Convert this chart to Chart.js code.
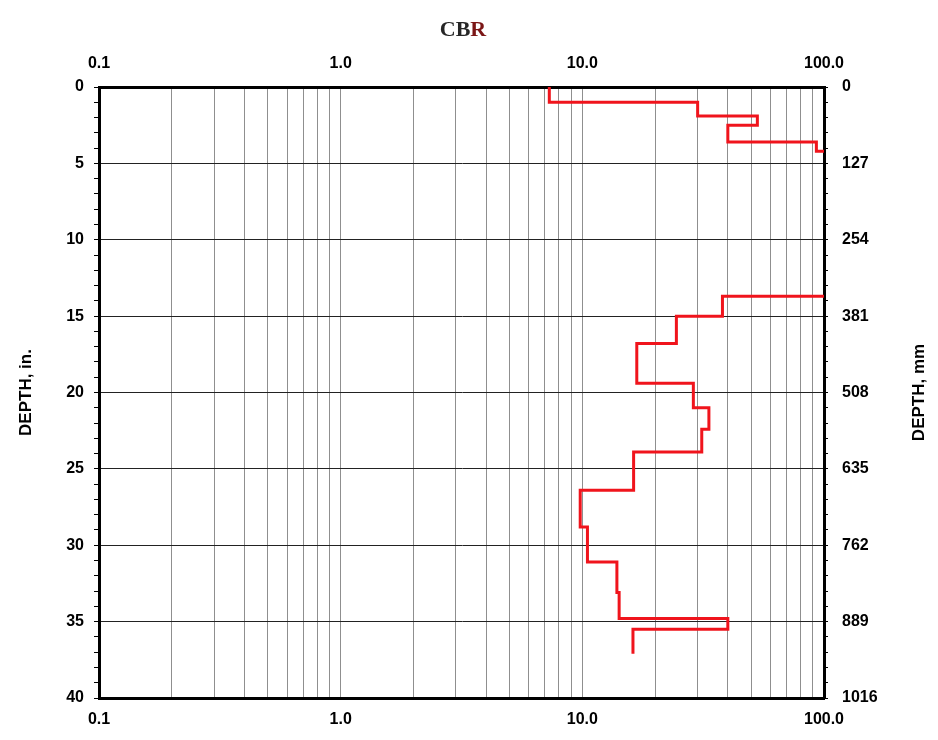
<!DOCTYPE html>
<html>
<head>
<meta charset="utf-8">
<script src="https://cdn.jsdelivr.net/npm/chart.js@4.4.1/dist/chart.umd.min.js"></script>
<style>
  html, body { margin: 0; padding: 0; background: #fff; }
  #wrap { width: 938px; height: 740px; }
</style>
</head>
<body>
<div id="wrap"><canvas id="cbrChart"></canvas></div>
<script>
// CBR profile vertices (CBR, depth in inches); null = off-scale gap
const cbrPath = [7.3, 7.3, 30, 30, 53, 53, 40, 40, 93, 93, 100, null,
  100, 38, 38, 24.5, 24.5, 16.8, 16.8, 28.8, 28.8, 33.4, 33.4, 31.2, 31.2,
  16.3, 16.3, 9.8, 9.8, 10.5, 10.5, 13.9, 13.9, 14.2, 14.2, 40, 40, 16.2, 16.2];
const depthPath = [0, 1.0, 1.0, 1.9, 1.9, 2.5, 2.5, 3.6, 3.6, 4.2, 4.2, null,
  13.7, 13.7, 15.0, 15.0, 16.8, 16.8, 19.4, 19.4, 21.0, 21.0, 22.4, 22.4, 23.9,
  23.9, 26.4, 26.4, 28.8, 28.8, 31.1, 31.1, 33.1, 33.1, 34.8, 34.8, 35.5, 35.5, 37.1];

// log grid lines and labelled decades
const xGridValues = [0.1, 0.2, 0.3, 0.4, 0.5, 0.6, 0.7, 0.8, 0.9,
  1, 2, 3, 4, 5, 6, 7, 8, 9, 10, 20, 30, 40, 50, 60, 70, 80, 90, 100];
const xLabelValues = [0.1, 1, 10, 100];

// depth ticks (inches) every inch, labelled every 5
const depthTicks = [0, 1, 2, 3, 4, 5, 6, 7, 8, 9, 10, 11, 12, 13, 14, 15, 16, 17, 18, 19,
  20, 21, 22, 23, 24, 25, 26, 27, 28, 29, 30, 31, 32, 33, 34, 35, 36, 37, 38, 39, 40];
const depthLabelStep = 5;
const MM_PER_IN = 25.4;

const points = cbrPath.map((x, i) => (x === null ? { x: null, y: null } : { x: x, y: depthPath[i] }));

const tickFont = { family: "'Liberation Sans', Arial, sans-serif", size: 16, weight: 'bold' };
const titleFont = { family: "'Liberation Sans', Arial, sans-serif", size: 17, weight: 'bold' };

// two-colour "CBR" heading and the right axis title (reads bottom to top)
const extraText = {
  id: 'extraText',
  afterDraw(chart) {
    const c = chart.ctx;
    const area = chart.chartArea;
    c.save();
    c.font = "bold 22px 'Liberation Serif', 'Times New Roman', serif";
    c.textBaseline = 'middle';
    const w1 = c.measureText('CB').width;
    const w2 = c.measureText('R').width;
    const x0 = 463 - (w1 + w2) / 2;
    c.fillStyle = '#262626';
    c.fillText('CB', x0, 30);
    c.fillStyle = '#7b1616';
    c.fillText('R', x0 + w1, 30);

    c.translate(919, (area.top + area.bottom) / 2);
    c.rotate(-Math.PI / 2);
    c.font = "bold 17px 'Liberation Sans', Arial, sans-serif";
    c.fillStyle = '#000';
    c.textAlign = 'center';
    c.fillText('DEPTH, mm', 0, 0);
    c.restore();
  }
};

const logTickLabel = (v) => (xLabelValues.includes(v) ? v.toFixed(1) : '');

new Chart(document.getElementById('cbrChart'), {
  type: 'scatter',
  data: {
    datasets: [{
      label: 'CBR',
      data: points,
      showLine: true,
      spanGaps: false,
      borderColor: '#f0141c',
      borderWidth: 3,
      pointRadius: 0,
      fill: false
    }]
  },
  options: {
    responsive: true,
    maintainAspectRatio: false,
    animation: false,
    layout: { padding: { top: 40, left: 0, right: 0, bottom: 0 } },
    plugins: { legend: { display: false }, tooltip: { enabled: false } },
    scales: {
      x: {
        type: 'logarithmic', position: 'bottom', min: 0.1, max: 100,
        afterBuildTicks: (s) => { s.ticks = xGridValues.map((v) => ({ value: v })); },
        afterFit: (s) => { s.height = 42; },
        ticks: { autoSkip: false, maxRotation: 0, color: '#000', font: tickFont, padding: 12, callback: logTickLabel },
        grid: { color: '#8f8f8f', lineWidth: 1, drawTicks: false },
        border: { color: '#000', width: 3 }
      },
      x2: {
        type: 'logarithmic', position: 'top', min: 0.1, max: 100,
        afterBuildTicks: (s) => { s.ticks = xGridValues.map((v) => ({ value: v })); },
        afterFit: (s) => { s.height = 47; },
        ticks: { autoSkip: false, maxRotation: 0, color: '#000', font: tickFont, padding: 14, callback: logTickLabel },
        grid: { drawOnChartArea: false, drawTicks: false },
        border: { color: '#000', width: 3 }
      },
      y: {
        type: 'linear', position: 'left', reverse: true, min: 0, max: 40,
        afterBuildTicks: (s) => { s.ticks = depthTicks.map((v) => ({ value: v })); },
        afterFit: (s) => { s.width = 99; },
        ticks: { autoSkip: false, color: '#000', font: tickFont, padding: 10,
          callback: (v) => (v % depthLabelStep === 0 ? String(v) : '') },
        grid: {
          color: (c) => (c.tick && c.tick.value % depthLabelStep === 0 ? '#222' : 'rgba(0,0,0,0)'),
          tickColor: '#000', tickLength: 5, lineWidth: 1
        },
        border: { color: '#000', width: 3 },
        title: { display: true, text: 'DEPTH, in.', color: '#000', font: titleFont, padding: { top: 16, bottom: 0 } }
      },
      y2: {
        type: 'linear', position: 'right', reverse: true, min: 0, max: 40 * MM_PER_IN,
        afterBuildTicks: (s) => { s.ticks = depthTicks.map((v) => ({ value: v * MM_PER_IN })); },
        afterFit: (s) => { s.width = 938 - 824; },
        ticks: { autoSkip: false, color: '#000', font: tickFont, padding: 14,
          callback: (v, i) => (i % depthLabelStep === 0 ? String(Math.round(v)) : '') },
        grid: { drawOnChartArea: false, tickColor: '#000', tickLength: 4 },
        border: { color: '#000', width: 3 }
      }
    }
  },
  plugins: [extraText]
});
</script>
</body>
</html>
